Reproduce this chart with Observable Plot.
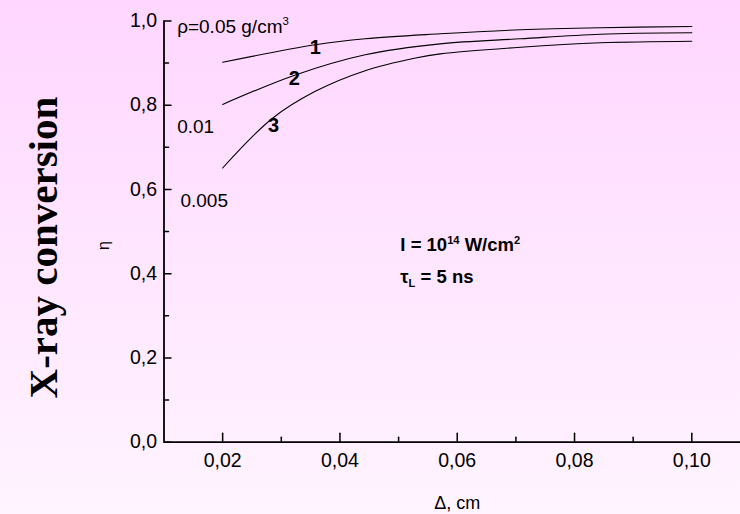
<!DOCTYPE html>
<html>
<head>
<meta charset="utf-8">
<script src="https://cdn.jsdelivr.net/npm/d3@7"></script>
<script src="https://cdn.jsdelivr.net/npm/@observablehq/plot@0.6"></script>
<style>
  html, body { margin: 0; padding: 0; }
  #chart { width: 740px; height: 514px; background: linear-gradient(to bottom, #ffd6ff 0%, #ffe6ff 50%, #fff4ff 100%); overflow: hidden; }
  #chart svg { background: transparent; display: block; }
</style>
</head>
<body>
<div id="chart"></div>
<script>
// Data: [Δ (cm), η]
const curve1 = [
  [0.02, 0.902], [0.0358, 0.9435], [0.0443, 0.958], [0.0571, 0.9696], [0.0708, 0.9791], [0.0844, 0.984], [0.10, 0.987]
];
const curve2 = [
  [0.02, 0.802], [0.0324, 0.872], [0.0443, 0.920], [0.0571, 0.9458], [0.0708, 0.9578], [0.0844, 0.9687], [0.10, 0.972]
];
const curve3 = [
  [0.02, 0.651], [0.0284, 0.768], [0.0358, 0.833], [0.0443, 0.882], [0.0529, 0.912], [0.0571, 0.922], [0.0708, 0.9378], [0.0844, 0.9482], [0.10, 0.952]
];
const xMajor = [0.02, 0.04, 0.06, 0.08, 0.10];
const xMinor = [0.03, 0.05, 0.07, 0.09];
const yMajor = [0, 0.2, 0.4, 0.6, 0.8, 1.0];
const yMinor = [0.1, 0.3, 0.5, 0.7, 0.9];
const curveLabels = [
  {x: 0.0358, y: 0.938, text: "1"},
  {x: 0.03224, y: 0.864, text: "2"},
  {x: 0.0287, y: 0.752, text: "3"}
];
const densityLabels = [
  {x: 0.01224, y: 0.985, text: "ρ=0.05 g/cm^3"},
  {x: 0.01224, y: 0.7495, text: "0.01"},
  {x: 0.0128, y: 0.574, text: "0.005"}
];
const conditionLabels = [
  {x: 0.0503, y: 0.467, text: "I = 10^14 W/cm^2"},
  {x: 0.0503, y: 0.391, text: "τ_L = 5 ns"}
];
const xDomain = [0.01, 0.1083];
const yDomain = [0, 1];

const series = [
  ...curve1.map(([x, y]) => ({x, y, s: 1})),
  ...curve2.map(([x, y]) => ({x, y, s: 2})),
  ...curve3.map(([x, y]) => ({x, y, s: 3}))
];

const tickShape = {draw(context, l) { context.moveTo(0, 0); context.lineTo(0, -l); }};
const font = "'Liberation Sans', Arial, sans-serif";

const plot = Plot.plot({
  width: 740,
  height: 514,
  marginLeft: 163.5,
  marginRight: 0,
  marginTop: 20.5,
  marginBottom: 72.3,
  style: {background: "transparent", fontFamily: font, color: "#000", overflow: "visible"},
  x: {domain: xDomain, axis: null},
  y: {domain: yDomain, axis: null},
  marks: [
    // tick labels
    Plot.axisX(xMajor, {tickSize: 0, tickPadding: 11, fontSize: 19.5, label: null, tickFormat: d => d.toFixed(2).replace(".", ","), fill: "#000"}),
    Plot.axisY(yMajor, {tickSize: 0, tickPadding: 7, fontSize: 19.5, label: null, tickFormat: d => d.toFixed(1).replace(".", ","), fill: "#000"}),
    // inward ticks
    Plot.vector(xMajor, {x: d => d, y: yDomain[0], length: 9, rotate: 0, anchor: "start", shape: tickShape, stroke: "#000", strokeWidth: 1.5}),
    Plot.vector(xMinor, {x: d => d, y: yDomain[0], length: 5, rotate: 0, anchor: "start", shape: tickShape, stroke: "#000", strokeWidth: 1.5}),
    Plot.vector(yMajor, {x: xDomain[0], y: d => d, length: 7, rotate: 90, anchor: "start", shape: tickShape, stroke: "#000", strokeWidth: 1.5}),
    Plot.vector(yMinor, {x: xDomain[0], y: d => d, length: 4.5, rotate: 90, anchor: "start", shape: tickShape, stroke: "#000", strokeWidth: 1.5}),
    // axis lines
    Plot.ruleY([yDomain[0]], {x1: xDomain[0], x2: xDomain[1], stroke: "#000", strokeWidth: 1.8}),
    Plot.ruleX([xDomain[0]], {y1: yDomain[0], y2: yDomain[1], stroke: "#000", strokeWidth: 1.8}),
    // curves
    Plot.line(series, {x: "x", y: "y", z: "s", curve: "catmull-rom", stroke: "#000", strokeWidth: 1.1}),
    // labels
    Plot.text(curveLabels, {x: "x", y: "y", text: "text", fontSize: 20, fontWeight: "bold", fill: "#000"}),
    Plot.text(densityLabels, {x: "x", y: "y", text: "text", fontSize: 19, textAnchor: "start", fill: "#000"}),
    Plot.text(conditionLabels, {x: "x", y: "y", text: "text", fontSize: 18.5, fontWeight: "bold", textAnchor: "start", fill: "#000"}),
    // axis titles
    Plot.text(["X-ray conversion"], {frameAnchor: "left", textAnchor: "middle", lineAnchor: "middle", dx: -120, dy: 16, rotate: -90, fontSize: 41, fontWeight: "bold", fontFamily: "'Liberation Serif', 'Times New Roman', serif", fill: "#000"}),
    Plot.text(["η"], {frameAnchor: "left", textAnchor: "middle", lineAnchor: "middle", dx: -60, dy: 14, rotate: -90, fontSize: 16, fill: "#000"}),
    Plot.text(["Δ, cm"], {frameAnchor: "bottom", textAnchor: "middle", lineAnchor: "middle", dx: 5, dy: 61, fontSize: 18, fill: "#000"})
  ]
});

// Render ^superscripts and _subscripts as tspans
d3.select(plot).selectAll("text").each(function() {
  const el = d3.select(this);
  const tspans = el.selectAll("tspan");
  const nodes = tspans.empty() ? [this] : tspans.nodes();
  nodes.forEach(node => {
    const t = node.textContent;
    if (!/[\^_]/.test(t)) return;
    const parts = t.split(/([\^_][^\s]+)/).filter(p => p.length);
    const sel = d3.select(node);
    sel.text(null);
    let restore = null;
    parts.forEach(p => {
      if (p[0] === "^") {
        sel.append("tspan").attr("font-size", "0.6em").attr("dy", "-0.7em").text(p.slice(1));
        restore = "0.42em";
      } else if (p[0] === "_") {
        sel.append("tspan").attr("font-size", "0.6em").attr("dy", "0.35em").text(p.slice(1));
        restore = "-0.21em";
      } else {
        const ts = sel.append("tspan").text(p);
        if (restore) { ts.attr("dy", restore); restore = null; }
      }
    });
  });
});

document.getElementById("chart").appendChild(plot);
</script>
</body>
</html>
